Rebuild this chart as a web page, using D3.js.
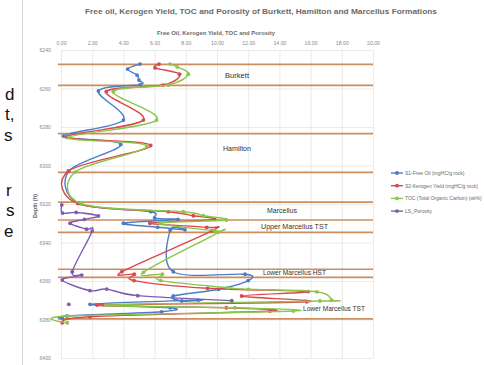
<!DOCTYPE html>
<html>
<head>
<meta charset="utf-8">
<script src="https://cdn.jsdelivr.net/npm/d3@7"></script>
<style>
  body { margin: 0; background: #fff; }
  svg { display: block; }
  text { font-family: "Liberation Sans", Arial, sans-serif; }
</style>
</head>
<body>
<svg id="chart" width="484" height="365"></svg>
<script>
// ---- data -------------------------------------------------------------
const valueTicks = [0, 2, 4, 6, 8, 10, 12, 14, 16, 18, 20];
const depthTicks = [6240, 6260, 6280, 6300, 6320, 6340, 6360, 6380, 6400];

const seriesNames = [
  "S1-Free Oil (mgHC/g rock)",
  "S2-Kerogen Yield (mgHC/g rock)",
  "TOC (Total Organic Carbon) (wt%)",
  "LS_Porosity"
];

// S1 free oil
const freeOilDepth = [6247.3, 6249.9, 6253.0, 6255.6, 6258.0, 6261.3, 6276.4, 6284.7, 6289.1, 6302.9,
  6319.5, 6324.0, 6327.3, 6328.0, 6330.0, 6332.1, 6333.4, 6333.6,
  6355.2, 6356.5, 6359.8, 6364.3, 6367.8, 6370.4, 6369.9, 6372.1, 6373.9, 6376.0, 6378.2, 6379.4];
const freeOil = [5.06, 4.27, 4.87, 5.00, 5.08, 2.40, 4.00, 0.15, 3.83, 0.50,
  1.10, 5.75, 6.00, 7.50, 4.00, 6.20, 7.95, 7.00,
  7.20, 11.80, 12.00, 10.10, 7.20, 7.74, 8.80, 1.86, 7.00, 6.45, 0.37, 0.08];

// S2 kerogen yield
const kerogenDepth = [6247.3, 6249.3, 6252.6, 6258.2, 6261.7, 6276.4, 6285.2, 6289.6, 6302.9,
  6319.8, 6324.0, 6326.1, 6328.0, 6330.0, 6332.1, 6334.0,
  6355.2, 6356.5, 6359.8, 6363.8, 6365.5, 6367.8, 6370.8, 6372.5, 6373.9, 6375.6, 6378.6, 6381.7];
const kerogen = [6.28, 6.03, 7.60, 6.55, 2.90, 5.28, 0.37, 5.75, 0.47,
  1.08, 6.88, 8.48, 9.83, 5.70, 9.34, 9.66,
  3.90, 4.70, 4.68, 9.40, 15.85, 11.58, 15.75, 2.30, 10.60, 13.40, 1.86, 0.08];

// TOC
const tocDepth = [6247.3, 6248.8, 6252.6, 6258.2, 6261.7, 6276.4, 6285.5, 6289.9, 6303.4,
  6320.0, 6324.0, 6326.1, 6328.3, 6330.0, 6334.0, 6334.7,
  6355.5, 6356.5, 6359.8, 6363.5, 6364.3, 6365.6, 6370.0, 6370.4, 6372.5, 6373.9, 6375.6, 6378.2, 6381.7];
const toc = [6.99, 7.45, 8.16, 6.88, 3.35, 6.13, 0.47, 5.50, 0.90,
  1.33, 7.84, 9.12, 10.60, 6.35, 9.87, 10.10,
  5.28, 6.50, 6.40, 10.70, 12.00, 16.40, 17.35, 16.60, 2.90, 11.15, 14.90, 0.47, 0.40];

// LS porosity (null = blank row, breaks the line)
const porosityDepth = [6320.5, 6324.7, 6324.4, 6326.2, 6328.0, 6330.0, 6333.1, 6334.0,
  6355.2, 6356.9, 6359.5, 6365.0, 6364.2, 6367.6, 6370.2, 6371.0, 6372.1];
const porosity = [0.05, 0.10, 0.97, 2.40, 1.50, 0.58, 1.64, 2.00,
  0.72, 1.33, 0.08, 1.86, 2.93, 4.92, 10.95, null, 0.50];

// formation boundaries (ft)
const formationTops = [6247.5, 6258.4, 6283.4, 6303.6, 6319.0, 6328.3, 6334.7, 6353.9, 6358.1, 6379.7];
const formationNames = ["Burkett", "Hamilton", "Marcellus", "Upper Marcellus TST",
  "Lower Marcellus HST", "Lower Marcellus TST"];

// ---- drawing ----------------------------------------------------------
const colors = ["#4a7cc7", "#d9484d", "#8cc54b", "#7f5ab3"];
const svg = d3.select("#chart");

const x = d3.scaleLinear().domain([0, 20]).range([61, 373]);
const y = d3.scaleLinear().domain([6240, 6400]).range([50, 358]);

// document text running beside the chart (clipped at the page edge)
const sideText = [["d", 5, 100], ["t,", 5, 120], ["s", 4, 141], ["r", 6, 196], ["s", 6, 216], ["e", 4, 237]];
svg.append("g").selectAll("text").data(sideText).join("text")
  .attr("x", d => d[1]).attr("y", d => d[2])
  .attr("font-size", 17).attr("fill", "#111")
  .text(d => d[0]);

// chart frame edge
svg.append("line").attr("x1", 22.5).attr("x2", 22.5).attr("y1", 0).attr("y2", 365)
  .attr("stroke", "#d9d9d9").attr("stroke-width", 1);

// title
svg.append("text").attr("x", 85).attr("y", 14)
  .attr("font-size", 7.6).attr("font-weight", "bold").attr("fill", "#6b6b6b")
  .attr("textLength", 352).attr("lengthAdjust", "spacingAndGlyphs")
  .text("Free oil, Kerogen Yield, TOC and Porosity of Burkett, Hamilton and Marcellus Formations");

// axis title (top)
svg.append("text").attr("x", 157).attr("y", 35)
  .attr("font-size", 5.4).attr("font-weight", "bold").attr("fill", "#6b6b6b")
  .attr("textLength", 118).attr("lengthAdjust", "spacingAndGlyphs")
  .text("Free Oil, Kerogen Yield, TOC and Porosity");

// depth axis title
svg.append("text")
  .attr("transform", "translate(37,206) rotate(-90)")
  .attr("text-anchor", "middle")
  .attr("font-size", 5.4).attr("font-weight", "bold").attr("fill", "#6b6b6b")
  .text("Depth (ft)");

// gridlines
const grid = svg.append("g").attr("stroke", "#e4e4e4").attr("stroke-width", 0.8);
grid.selectAll("line.v").data(valueTicks).join("line").attr("class", "v")
  .attr("x1", d => x(d) + 0.5).attr("x2", d => x(d) + 0.5)
  .attr("y1", y(6240)).attr("y2", y(6400));
grid.selectAll("line.h").data(depthTicks).join("line").attr("class", "h")
  .attr("x1", x(0)).attr("x2", x(20))
  .attr("y1", d => y(d) + 0.5).attr("y2", d => y(d) + 0.5);

// axes
const xAxis = svg.append("g").attr("transform", `translate(0,${y(6240)})`)
  .call(d3.axisTop(x).tickValues(valueTicks).tickSize(0).tickPadding(5).tickFormat(d3.format(".2f")));
const yAxis = svg.append("g").attr("transform", `translate(${x(0)},0)`)
  .call(d3.axisLeft(y).tickValues(depthTicks).tickSize(0).tickPadding(10).tickFormat(d3.format("d")));
[xAxis, yAxis].forEach(g => {
  g.select(".domain").remove();
  g.selectAll("text").attr("font-size", 5.2).attr("fill", "#8a8a8a")
    .attr("font-family", "Liberation Sans, Arial, sans-serif");
});

// formation boundaries
svg.append("g").selectAll("line").data(formationTops).join("line")
  .attr("x1", x(-0.2)).attr("x2", x(20))
  .attr("y1", d => y(d)).attr("y2", d => y(d))
  .attr("stroke", "#cf8c5c").attr("stroke-width", 1.7);

// series
const series = [
  [freeOilDepth, freeOil],
  [kerogenDepth, kerogen],
  [tocDepth, toc],
  [porosityDepth, porosity]
].map(([dep, val], i) => ({
  color: colors[i],
  pts: dep.map((d, k) => ({ depth: d, v: val[k] }))
}));

const line = d3.line()
  .defined(d => d.v != null)
  .x(d => x(d.v)).y(d => y(d.depth))
  .curve(d3.curveCatmullRom.alpha(0));

const sg = svg.append("g").selectAll("g").data(series).join("g");
sg.append("path")
  .attr("d", d => line(d.pts))
  .attr("fill", "none").attr("stroke", d => d.color).attr("stroke-width", 1.4);
sg.each(function (s) {
  d3.select(this).selectAll("circle").data(s.pts.filter(p => p.v != null)).join("circle")
    .attr("cx", p => x(p.v)).attr("cy", p => y(p.depth)).attr("r", 1.9)
    .attr("fill", s.color);
});

// formation names
const labelSpots = [[225, 78, 24], [223, 151, 28], [267, 213, 30], [261, 229, 67], [263, 275, 63], [303, 311, 62]];
svg.append("g").selectAll("text").data(formationNames).join("text")
  .attr("x", (d, i) => labelSpots[i][0]).attr("y", (d, i) => labelSpots[i][1])
  .attr("textLength", (d, i) => labelSpots[i][2]).attr("lengthAdjust", "spacingAndGlyphs")
  .attr("font-size", 6.4).attr("fill", "#333")
  .text(d => d);

// legend
const lg = svg.append("g").selectAll("g").data(seriesNames).join("g")
  .attr("transform", (d, i) => `translate(391,${173 + i * 12.7})`);
lg.append("line").attr("x1", 0).attr("x2", 12).attr("y1", 0).attr("y2", 0)
  .attr("stroke", (d, i) => colors[i]).attr("stroke-width", 1.4);
lg.append("circle").attr("cx", 6).attr("cy", 0).attr("r", 1.9).attr("fill", (d, i) => colors[i]);
lg.append("text").attr("x", 14).attr("y", 1.8).attr("font-size", 5)
  .attr("fill", "#6b6b6b").text(d => d);
</script>
</body>
</html>
